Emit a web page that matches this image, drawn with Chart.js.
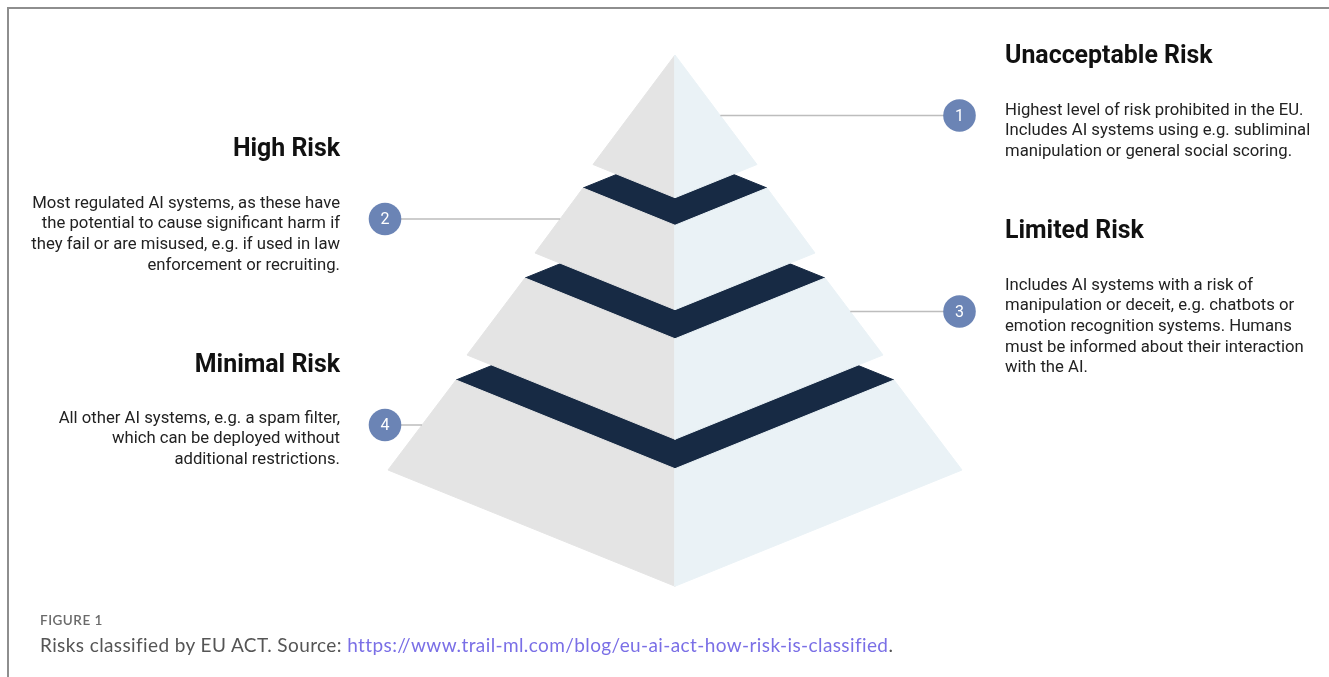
<!DOCTYPE html>
<html>
<head>
<meta charset="utf-8">
<script src="https://cdn.jsdelivr.net/npm/chart.js@4.4.1/dist/chart.umd.min.js"></script>
<style>
html,body{margin:0;padding:0;background:#fff;width:1329px;height:677px;overflow:hidden}
#wrap{position:absolute;left:0;top:0;width:1329px;height:677px}
#frame{position:absolute;left:7px;top:7px;right:0;bottom:0;border-top:2px solid #8e8e8e;border-left:2px solid #8e8e8e;pointer-events:none}
#cap1{position:absolute;left:40px;top:612px;font:600 13.5px Lato,sans-serif;color:#6a6a6a;letter-spacing:0.5px;white-space:nowrap}
#cap2{position:absolute;left:40px;top:633px;font:400 19px Lato,sans-serif;color:#555;white-space:nowrap}
#cap2 a{color:#7a6fe6;text-decoration:none}
</style>
</head>
<body>
<div id="wrap"><canvas id="c" width="1329" height="677"></canvas></div>
<div id="frame"></div>
<div id="cap1">FIGURE 1</div>
<div id="cap2">Risks classified by EU ACT. Source: <a href="#">https://www.trail-ml.com/blog/eu-ai-act-how-risk-is-classified</a>.</div>
<script>
// ---- data ----
const riskLevels = ['Unacceptable Risk', 'High Risk', 'Limited Risk', 'Minimal Risk'];
const levelNumbers = ['1', '2', '3', '4'];
const levelDescriptions = [
  ['Highest level of risk prohibited in the EU.', 'Includes AI systems using e.g. subliminal', 'manipulation or general social scoring.'],
  ['Most regulated AI systems, as these have', 'the potential to cause significant harm if', 'they fail or are misused, e.g. if used in law', 'enforcement or recruiting.'],
  ['Includes AI systems with a risk of', 'manipulation or deceit, e.g. chatbots or', 'emotion recognition systems. Humans', 'must be informed about their interaction', 'with the AI.'],
  ['All other AI systems, e.g. a spam filter,', 'which can be deployed without', 'additional restrictions.']
];
const labelSide = ['right', 'left', 'right', 'left'];
// pyramid tiers (diagram units), top tier first
const tierTopLevel = [55, 188, 278, 380];
const tierTopHalfWidth = [0, 92, 150, 219];
const tierBottomLevel = [164.5, 253, 355, 470];
const tierBottomHalfWidth = [82, 140, 208, 287];
const calloutLevel = [115.5, 219, 311.5, 425];
const titleLevel = [63, 156, 238.3, 371.7];
const bodyLevel = [114.5, 207.5, 289.5, 422.7];

// ---- layout constants ----
const CX = 675, DEPTH = 0.405;
const RIGHT_CIRCLE_X = 959.5, LEFT_CIRCLE_X = 385;
const RIGHT_TEXT_X = 1005, LEFT_TEXT_X = 340, LINE_STEP = 20.7;
const COL_LEFT = '#e4e4e4', COL_RIGHT = '#eaf2f6', COL_TOP = '#172a44', COL_DOT = '#6b84b5', COL_LINK = '#bdbdbd';

function poly(pts, color) {
  return {
    type: 'line',
    data: pts.concat([pts[0]]).map(p => ({x: p[0], y: p[1]})),
    backgroundColor: color, borderColor: color, borderWidth: 1,
    fill: 'shape', pointRadius: 0, tension: 0, borderJoinStyle: 'miter'
  };
}
const datasets = [];
for (let i = riskLevels.length - 1; i >= 0; i--) {
  const wt = tierTopHalfWidth[i], yt = tierTopLevel[i];
  const wb = tierBottomHalfWidth[i], yb = tierBottomLevel[i];
  if (wt > 0) {
    datasets.push(poly([[CX - wt, yt], [CX, yt - DEPTH * wt], [CX + wt, yt], [CX, yt + DEPTH * wt]], COL_TOP));
  }
  datasets.push(poly([[CX - wt, yt], [CX, yt + DEPTH * wt], [CX, yb + DEPTH * wb], [CX - wb, yb]], COL_LEFT));
  datasets.push(poly([[CX + wt, yt], [CX, yt + DEPTH * wt], [CX, yb + DEPTH * wb], [CX + wb, yb]], COL_RIGHT));
}
// callout connectors and circles
riskLevels.forEach((name, i) => {
  const right = labelSide[i] === 'right';
  const yl = calloutLevel[i];
  const wt = tierTopHalfWidth[i], yt = tierTopLevel[i];
  const wb = tierBottomHalfWidth[i], yb = tierBottomLevel[i];
  const w = wt + (wb - wt) * (yl - yt) / (yb - yt);
  const edgeX = right ? CX + w : CX - w;
  const cx = right ? RIGHT_CIRCLE_X : LEFT_CIRCLE_X;
  datasets.push({
    type: 'line', data: [{x: edgeX, y: yl}, {x: cx, y: yl}],
    borderColor: COL_LINK, borderWidth: 1.5, pointRadius: 0, fill: false
  });
});
datasets.push({
  type: 'line',
  data: riskLevels.map((n, i) => ({x: labelSide[i] === 'right' ? RIGHT_CIRCLE_X : LEFT_CIRCLE_X, y: calloutLevel[i]})),
  showLine: false, pointRadius: 16.3, pointBackgroundColor: COL_DOT, pointBorderWidth: 0, pointBorderColor: COL_DOT
});
datasets.forEach((d, i) => { d.order = -i; });

const textPlugin = {
  id: 'riskText',
  afterDatasetsDraw(chart) {
    const {ctx, scales: {x, y}} = chart;
    ctx.save();
    riskLevels.forEach((name, i) => {
      const right = labelSide[i] === 'right';
      const tx = x.getPixelForValue(right ? RIGHT_TEXT_X : LEFT_TEXT_X);
      ctx.textAlign = right ? 'left' : 'right';
      ctx.textBaseline = 'alphabetic';
      ctx.fillStyle = '#111111';
      ctx.font = 'bold 24.9px Roboto';
      ctx.fillText(name, tx, y.getPixelForValue(titleLevel[i]));
      ctx.font = '16.7px Roboto';
      ctx.fillStyle = '#222222';
      levelDescriptions[i].forEach((line, j) => {
        ctx.fillText(line, tx, y.getPixelForValue(bodyLevel[i] + j * LINE_STEP));
      });
      ctx.fillStyle = '#ffffff';
      ctx.font = '16px Roboto';
      ctx.textAlign = 'center';
      ctx.textBaseline = 'middle';
      ctx.fillText(levelNumbers[i], x.getPixelForValue(right ? RIGHT_CIRCLE_X : LEFT_CIRCLE_X), y.getPixelForValue(calloutLevel[i]) + 1);
    });
    ctx.restore();
  }
};

new Chart(document.getElementById('c'), {
  type: 'line',
  data: {datasets},
  options: {
    responsive: false, animation: false, devicePixelRatio: 1, events: [],
    layout: {padding: 0, autoPadding: false},
    plugins: {legend: {display: false}, tooltip: {enabled: false}, title: {display: false}},
    scales: {
      x: {type: 'linear', min: 0, max: 1329, display: false},
      y: {type: 'linear', min: 0, max: 677, reverse: true, display: false}
    }
  },
  plugins: [textPlugin]
});

// fit caption to the reference width
(function fitCaption() {
  const el = document.getElementById('cap2');
  const target = 852;
  const w = el.getBoundingClientRect().width;
  const chars = el.textContent.length;
  el.style.letterSpacing = ((target - w) / chars).toFixed(3) + 'px';
})();
</script>
</body>
</html>
